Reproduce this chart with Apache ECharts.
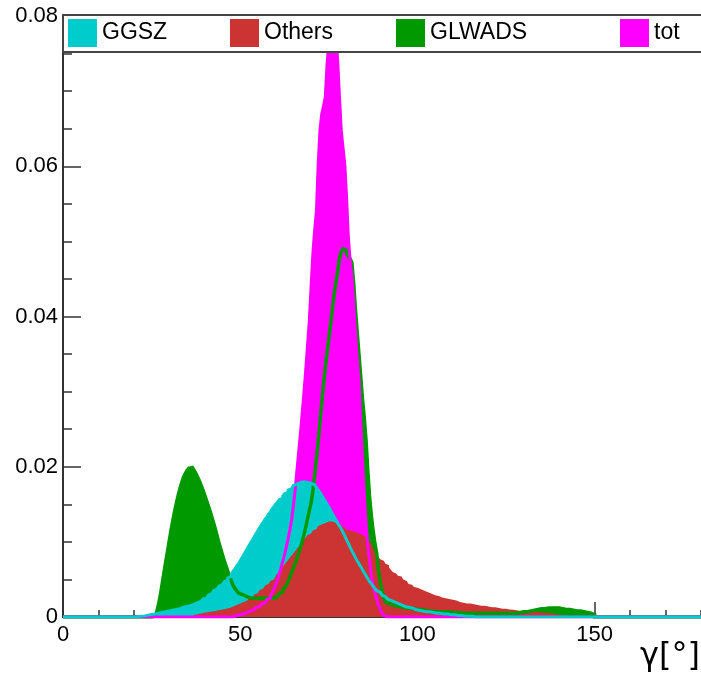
<!DOCTYPE html>
<html>
<head>
<meta charset="utf-8">
<script src="https://cdn.jsdelivr.net/npm/echarts@6/dist/echarts.min.js"></script>
<style>
  html, body { margin: 0; padding: 0; background: #ffffff; }
  #chart { width: 701px; height: 681px; }
</style>
</head>
<body>
<div id="chart"></div>
<script>
// Posterior densities of gamma in 0.5-degree bins.
// Each series lists its non-empty bins from the given lower edge; rows span 5 degrees.
const seriesNames = ['GGSZ', 'Others', 'GLWADS', 'tot'];
const BIN = 0.5;
const XMAX = 180;

const ggszStart = 20;
const ggszValues = [
  0.00003, 0.00005, 0.00007, 0.0001, 0.00012, 0.00015, 0.0002, 0.00025, 0.0003, 0.00033,
  0.00037, 0.0004, 0.00045, 0.0005, 0.00055, 0.0006, 0.00065, 0.0007, 0.00075, 0.0008,
  0.00085, 0.0009, 0.00095, 0.0010, 0.00105, 0.0011, 0.0012, 0.0013, 0.0013, 0.0014,
  0.0015, 0.0015, 0.0016, 0.0017, 0.0018, 0.0019, 0.0020, 0.0021, 0.0022, 0.0024,
  0.0025, 0.0027, 0.0029, 0.0031, 0.0033, 0.0035, 0.0037, 0.0039, 0.0041, 0.0043,
  0.0045, 0.0047, 0.0049, 0.0052, 0.0054, 0.0057, 0.0061, 0.0064, 0.0068, 0.0071,
  0.0075, 0.0079, 0.0083, 0.0087, 0.0091, 0.0095, 0.0099, 0.0103, 0.0107, 0.0111,
  0.0115, 0.0119, 0.0123, 0.0126, 0.0130, 0.0133, 0.0137, 0.0140, 0.0144, 0.0147,
  0.0150, 0.0153, 0.0156, 0.0158, 0.0161, 0.0164, 0.0166, 0.0169, 0.0171, 0.0173,
  0.0175, 0.0177, 0.0178, 0.0179, 0.0180, 0.0180, 0.0180, 0.0179, 0.0179, 0.0178,
  0.0177, 0.0176, 0.0174, 0.0172, 0.0169, 0.0166, 0.0162, 0.0158, 0.0154, 0.0150,
  0.0146, 0.0142, 0.0137, 0.0133, 0.0129, 0.0125, 0.0121, 0.0117, 0.0113, 0.0108,
  0.0103, 0.0098, 0.0093, 0.0088, 0.0084, 0.0079, 0.0075, 0.0071, 0.0067, 0.0063,
  0.0059, 0.0055, 0.0051, 0.0047, 0.0044, 0.0041, 0.0038, 0.0035, 0.0033, 0.0031,
  0.0029, 0.0027, 0.0025, 0.0024, 0.0022, 0.0021, 0.0020, 0.0019, 0.0018, 0.0017,
  0.0016, 0.0015, 0.0014, 0.0014, 0.0013, 0.0012, 0.0012, 0.0011, 0.0010, 0.0010,
  0.0009, 0.0009, 0.0008, 0.0008, 0.0007, 0.0007, 0.0007, 0.0006, 0.0006, 0.0006,
  0.0005, 0.0005, 0.0005, 0.0004, 0.0004, 0.0004, 0.0004, 0.0003, 0.0003, 0.0003,
  0.0003, 0.0002, 0.0002, 0.0002, 0.0002, 0.0002, 0.0001, 0.0001, 0.0001, 0.0001,
  0.0001, 0.00005
];

const othersStart = 36;
const othersValues = [
  0.0002, 0.00025, 0.0003, 0.00035, 0.0004, 0.00045, 0.0005, 0.00055, 0.0006, 0.00065,
  0.0007, 0.00072, 0.00075, 0.0008, 0.00085, 0.0009, 0.00095, 0.0010, 0.00105, 0.0011,
  0.00115, 0.0012, 0.0013, 0.0014, 0.0015, 0.0016, 0.0017, 0.0018, 0.0019, 0.0020,
  0.0021, 0.0022, 0.0024, 0.0025, 0.0027, 0.0028, 0.0030, 0.0032, 0.0034, 0.0036,
  0.0038, 0.0040, 0.0042, 0.0044, 0.0046, 0.0048, 0.0050, 0.0052, 0.0055, 0.0058,
  0.0061, 0.0064, 0.0067, 0.0070, 0.0073, 0.0076, 0.0079, 0.0082, 0.0085, 0.0088,
  0.0091, 0.0094, 0.0097, 0.0100, 0.0103, 0.0106, 0.0109, 0.0111, 0.0113, 0.0115,
  0.0117, 0.0119, 0.0121, 0.0123, 0.0124, 0.0125, 0.0126, 0.0127, 0.0127, 0.0127,
  0.0126, 0.0125, 0.0124, 0.0122, 0.0121, 0.0120, 0.0119, 0.0117, 0.0116, 0.0115,
  0.0115, 0.0114, 0.0113, 0.0112, 0.0111, 0.0110, 0.0109, 0.0108, 0.0106, 0.0104,
  0.0101, 0.0099, 0.0096, 0.0092, 0.0088, 0.0084, 0.0080, 0.0077, 0.0075, 0.0073,
  0.0071, 0.0069, 0.0066, 0.0063, 0.0060, 0.0058, 0.0056, 0.0055, 0.0054, 0.0052,
  0.0050, 0.0048, 0.0046, 0.0044, 0.0043, 0.0041, 0.0040, 0.0039, 0.0038, 0.0037,
  0.0036, 0.0035, 0.0034, 0.0033, 0.0032, 0.0031, 0.0030, 0.0029, 0.0029, 0.0028,
  0.0027, 0.0026, 0.0026, 0.0025, 0.0024, 0.0024, 0.0023, 0.0023, 0.0022, 0.0022,
  0.0021, 0.0020, 0.0020, 0.0019, 0.0019, 0.0018, 0.0018, 0.0018, 0.0017, 0.0017,
  0.0016, 0.0016, 0.0016, 0.0015, 0.0015, 0.0015, 0.0014, 0.0014, 0.0014, 0.0013,
  0.0013, 0.0013, 0.0012, 0.0012, 0.0012, 0.0011, 0.0011, 0.0011, 0.0010, 0.0010,
  0.0010, 0.00095, 0.0009, 0.0009, 0.00085, 0.0008, 0.0008, 0.0008, 0.00075, 0.00075,
  0.0007, 0.0007, 0.0007, 0.0007, 0.00065, 0.00065, 0.0006, 0.0006, 0.0006, 0.00055,
  0.0005, 0.0005, 0.00045, 0.00045, 0.0004, 0.0004, 0.00035, 0.0003, 0.00025, 0.0002,
  0.00015, 0.0001
];

const glwadsStart = 25;
const glwadsValues = [
  0.0000, 0.0001, 0.0003, 0.0008, 0.0018, 0.0030, 0.0045, 0.0060, 0.0074, 0.0088,
  0.0102, 0.0116, 0.0129, 0.0141, 0.0152, 0.0162, 0.0171, 0.0179, 0.0186, 0.0191,
  0.0195, 0.0198, 0.0199, 0.0198, 0.0195, 0.0191, 0.0186, 0.0181, 0.0175, 0.0169,
  0.0162, 0.0155, 0.0148, 0.0141, 0.0133, 0.0125, 0.0117, 0.0108, 0.0099, 0.0091,
  0.0083, 0.0075, 0.0068, 0.0061, 0.0055, 0.0048, 0.0042, 0.0038, 0.0035, 0.0032,
  0.0030, 0.0029, 0.0028, 0.0027, 0.0026, 0.0026, 0.0025, 0.0025, 0.0025, 0.0025,
  0.0025, 0.0025, 0.0025, 0.0025, 0.0025, 0.0025, 0.0025, 0.0025, 0.0025, 0.0026,
  0.0027, 0.0029, 0.0031, 0.0033, 0.0036, 0.0039, 0.0042, 0.0047, 0.0053, 0.0059,
  0.0065, 0.0071, 0.0078, 0.0085, 0.0093, 0.0101, 0.0110, 0.0120, 0.0131, 0.0142,
  0.0152, 0.0168, 0.0188, 0.0210, 0.0233, 0.0260, 0.0285, 0.0310, 0.0332, 0.0352,
  0.0370, 0.0390, 0.0410, 0.0430, 0.0445, 0.0460, 0.0478, 0.0486, 0.0490, 0.0488,
  0.0484, 0.0480, 0.0477, 0.0472, 0.0445, 0.0410, 0.0380, 0.0350, 0.0320, 0.0290,
  0.0265, 0.0235, 0.0195, 0.0160, 0.0135, 0.0115, 0.0098, 0.0085, 0.0062, 0.0047,
  0.0035, 0.0026, 0.0020, 0.0018, 0.0017, 0.0016, 0.0016, 0.0015, 0.0015, 0.0014,
  0.0014, 0.0013, 0.0013, 0.0012, 0.0012, 0.0012, 0.0011, 0.0011, 0.0011, 0.0010,
  0.0010, 0.0010, 0.0009, 0.0009, 0.0009, 0.0008, 0.0008, 0.0008, 0.0007, 0.0007,
  0.0007, 0.0007, 0.0007, 0.0007, 0.0007, 0.0007, 0.0007, 0.0007, 0.0006, 0.0006,
  0.0006, 0.0006, 0.0006, 0.0006, 0.0005, 0.0005, 0.0005, 0.0005, 0.0005, 0.0005,
  0.0005, 0.0005, 0.0005, 0.0005, 0.0005, 0.0005, 0.0005, 0.0005, 0.0005, 0.0005,
  0.0005, 0.0005, 0.0005, 0.0005, 0.0005, 0.0005, 0.0005, 0.0005, 0.0005, 0.0005,
  0.0005, 0.0005, 0.0005, 0.0005, 0.0005, 0.0005, 0.0006, 0.0006, 0.0006, 0.0007,
  0.0007, 0.0007, 0.0008, 0.0008, 0.0009, 0.0009, 0.0010, 0.0010, 0.0011, 0.0011,
  0.0011, 0.0011, 0.0012, 0.0012, 0.0012, 0.0012, 0.0013, 0.0012, 0.0012, 0.0012,
  0.0011, 0.0011, 0.0011, 0.0010, 0.0010, 0.0010, 0.0009, 0.0009, 0.0009, 0.0008,
  0.0008, 0.0008, 0.0007, 0.0007, 0.0007, 0.0006, 0.0006, 0.0005, 0.0004, 0.0003
];

const totStart = 48;
const totValues = [
  0.0001, 0.0002, 0.0002, 0.0003, 0.0003, 0.0004, 0.0005, 0.0006, 0.0007, 0.0008,
  0.0009, 0.0010, 0.0011, 0.0013, 0.0014, 0.0016, 0.0017, 0.0019, 0.0021, 0.0023,
  0.0025, 0.0028, 0.0032, 0.0037, 0.0043, 0.0050, 0.0057, 0.0065, 0.0074, 0.0083,
  0.0093, 0.0104, 0.0116, 0.0129, 0.0148, 0.0169, 0.0195, 0.0220, 0.0245, 0.0272,
  0.0300, 0.0330, 0.0362, 0.0395, 0.0440, 0.0484, 0.0515, 0.0540, 0.0603, 0.0648,
  0.0670, 0.0680, 0.0692, 0.0736, 0.0765, 0.0780, 0.0790, 0.0790, 0.0775, 0.0740,
  0.0692, 0.0648, 0.0625, 0.0603, 0.0559, 0.0506, 0.0475, 0.0453, 0.0420, 0.0380,
  0.0345, 0.0315, 0.0262, 0.0210, 0.0165, 0.0125, 0.0095, 0.0075, 0.0055, 0.0042,
  0.0032, 0.0024, 0.0016, 0.0010, 0.0005, 0.0002
];

const xMajorTicks = [0, 50, 100, 150];
const xTickLabels = ['0', '50', '100', '150'];
const yTickLabels = ['0', '0.02', '0.04', '0.06', '0.08'];

const colors = {
  GGSZ: '#00cccc',
  Others: '#cc3333',
  GLWADS: '#009900',
  tot: '#ff00ff'
};

// Histogram outline over 0..XMAX: every bin gives its left and right edge at the bin height.
function histPoints(start, values) {
  const pts = [];
  const n = Math.round(XMAX / BIN);
  const first = Math.round(start / BIN);
  for (let i = 0; i < n; i++) {
    const k = i - first;
    const v = (k >= 0 && k < values.length) ? values[k] : 0;
    pts.push([i * BIN, v]);
    pts.push([(i + 1) * BIN, v]);
  }
  return pts;
}

const hist = {
  GGSZ: histPoints(ggszStart, ggszValues),
  Others: histPoints(othersStart, othersValues),
  GLWADS: histPoints(glwadsStart, glwadsValues),
  tot: histPoints(totStart, totValues)
};

function fillSeries(name) {
  return {
    name: name,
    type: 'line',
    xAxisIndex: 0,
    data: hist[name],
    showSymbol: false,
    symbol: 'none',
    silent: true,
    itemStyle: { color: colors[name] },
    lineStyle: { width: 0.01, color: colors[name], opacity: 0 },
    areaStyle: { color: colors[name], opacity: 1 },
    animation: false
  };
}

function outlineSeries(name, width) {
  return {
    name: name,
    type: 'line',
    xAxisIndex: 0,
    data: hist[name],
    showSymbol: false,
    symbol: 'none',
    silent: true,
    itemStyle: { color: colors[name] },
    lineStyle: { width: width, color: colors[name], join: 'miter' },
    animation: false
  };
}

const legendLeft = [68, 230, 396, 620];
const font = '"Liberation Sans", Arial, Helvetica, sans-serif';
const axisColor = '#333';

const chart = echarts.init(document.getElementById('chart'), null, { renderer: 'canvas' });

chart.setOption({
  backgroundColor: '#ffffff',
  animation: false,
  grid: { left: 63, top: 16, right: 0, bottom: 64, containLabel: false, outerBoundsMode: 'none' },
  xAxis: [
    {
      // fine ticks every 10 degrees
      type: 'value',
      position: 'bottom',
      min: 0,
      max: XMAX,
      interval: 10,
      splitLine: { show: false },
      axisLine: { show: true, onZero: false, lineStyle: { color: axisColor, width: 2 } },
      axisTick: { show: true, inside: true, length: 7, lineStyle: { color: axisColor, width: 1.5 } },
      axisLabel: { show: false }
    },
    {
      // labelled ticks every 50 degrees
      type: 'value',
      position: 'bottom',
      offset: 0,
      min: 0,
      max: XMAX,
      interval: 50,
      splitLine: { show: false },
      axisLine: { show: false, onZero: false },
      axisTick: {
        show: true, inside: true, length: 15,
        customValues: xMajorTicks,
        lineStyle: { color: axisColor, width: 1.5 }
      },
      axisLabel: {
        color: '#000',
        fontSize: 22,
        fontFamily: font,
        margin: 7,
        customValues: xMajorTicks,
        formatter: function (v) {
          const i = xMajorTicks.indexOf(Math.round(v));
          return i >= 0 ? xTickLabels[i] : '';
        }
      }
    }
  ],
  yAxis: {
    type: 'value',
    min: 0,
    max: 0.08,
    interval: 0.02,
    splitLine: { show: false },
    axisLine: { show: true, lineStyle: { color: axisColor, width: 2 } },
    axisTick: { show: true, inside: true, length: 18, lineStyle: { color: axisColor, width: 1.5 } },
    minorTick: { show: true, splitNumber: 4, length: 9, lineStyle: { color: axisColor, width: 1.5 } },
    axisLabel: {
      color: '#000',
      fontSize: 22,
      fontFamily: font,
      margin: 5,
      formatter: function (v) {
        return yTickLabels[Math.round(v / 0.02)];
      }
    }
  },
  graphic: [
    {
      type: 'rect',
      z: 10,
      shape: { x: 63, y: 15, width: 642, height: 37 },
      style: { fill: '#ffffff', stroke: '#444', lineWidth: 2 }
    },
    {
      type: 'text',
      z: 10,
      x: 700,
      y: 641,
      style: { text: 'γ[°]', font: '32px "DejaVu Sans", sans-serif', fill: '#000', align: 'right', verticalAlign: 'top' }
    }
  ],
  legend: seriesNames.map(function (name, i) {
    return {
      data: [{ name: name, icon: 'rect', itemStyle: { color: colors[name], borderWidth: 0 } }],
      left: legendLeft[i],
      top: 19,
      padding: 0,
      itemWidth: 29,
      itemHeight: 28,
      selectedMode: false,
      z: 20,
      textStyle: { fontSize: 23, color: '#000', fontFamily: font }
    };
  }),
  series: [
    fillSeries('GLWADS'),
    fillSeries('tot'),
    fillSeries('GGSZ'),
    fillSeries('Others'),
    outlineSeries('GLWADS', 3.5),
    outlineSeries('tot', 3),
    outlineSeries('GGSZ', 3)
  ]
});
</script>
</body>
</html>
